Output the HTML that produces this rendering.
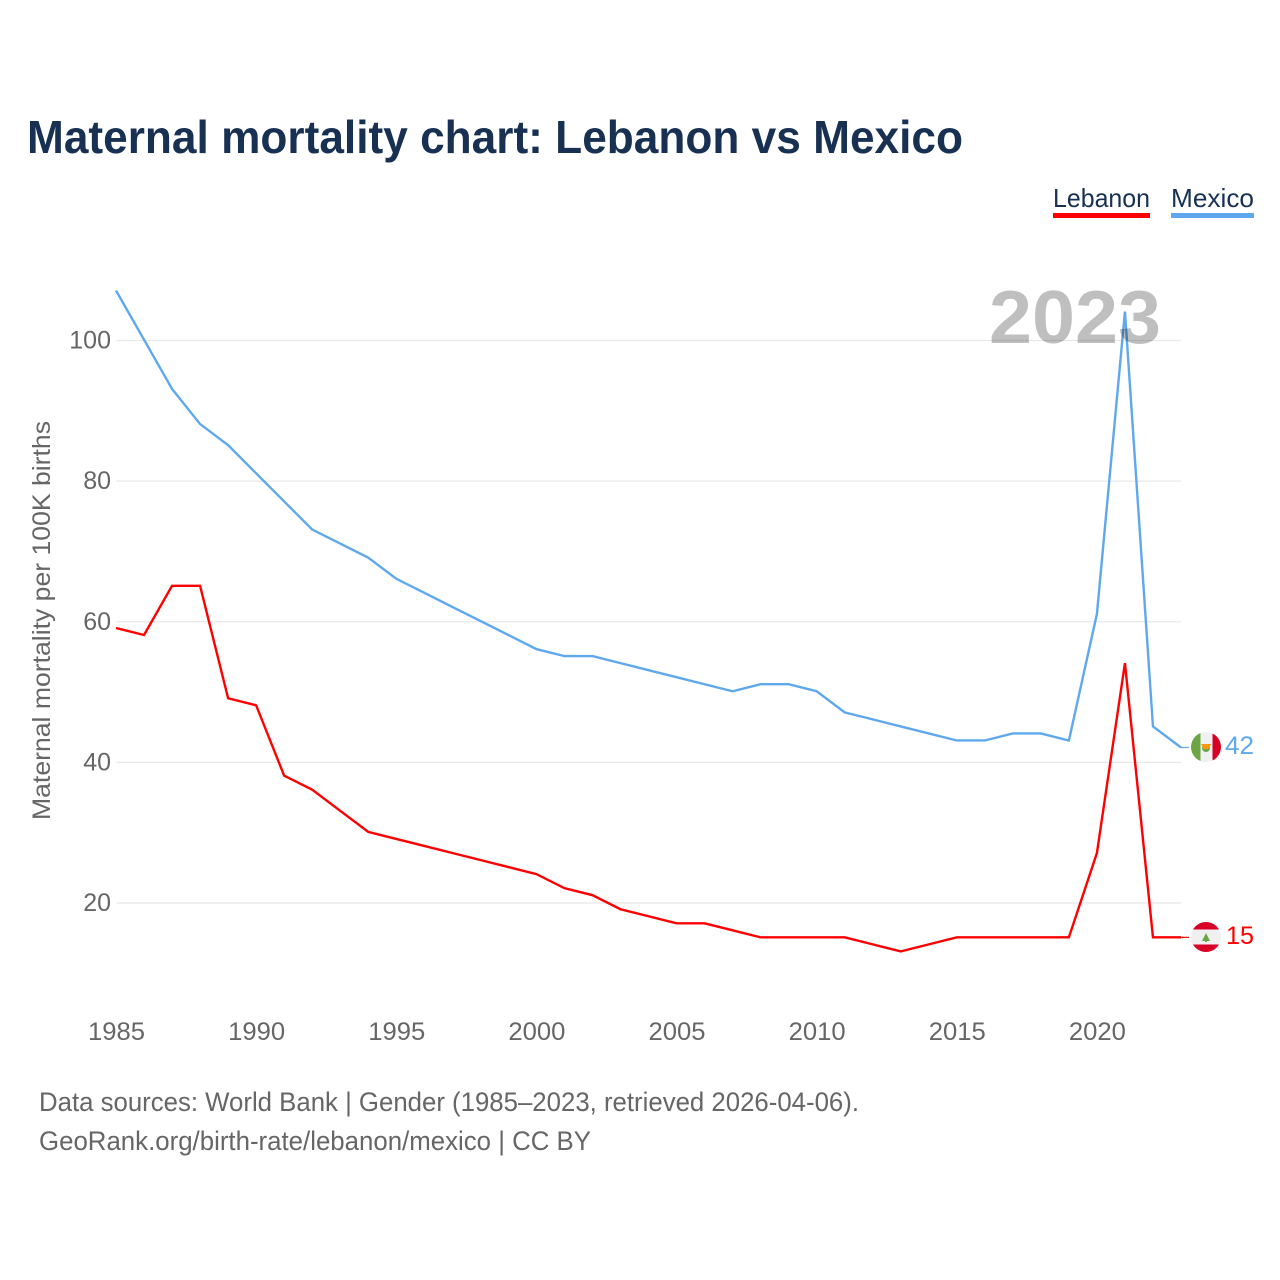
<!DOCTYPE html>
<html lang="en">
<head>
<meta charset="utf-8">
<title>Maternal mortality chart: Lebanon vs Mexico</title>
<style>
html,body{margin:0;padding:0;background:#fff;width:1280px;height:1280px;overflow:hidden}
svg{display:block}
text{font-family:"Liberation Sans",sans-serif}
</style>
</head>
<body>
<svg id="chart" xmlns="http://www.w3.org/2000/svg" width="1280" height="1280" viewBox="0 0 1280 1280">
  <defs>
    <clipPath id="flag-clip-mx"><circle cx="1206" cy="747" r="15"/></clipPath>
    <clipPath id="flag-clip-lb"><circle cx="1206" cy="937" r="15"/></clipPath>
  </defs>
  <text x="27" y="153" font-size="46" font-weight="700" fill="#183153" textLength="936" lengthAdjust="spacingAndGlyphs">Maternal mortality chart: Lebanon vs Mexico</text>

  <g>
    <g>
      <text x="1053" y="207" font-size="26" fill="#183153" textLength="97" lengthAdjust="spacingAndGlyphs">Lebanon</text>
      <rect x="1053" y="213" width="97" height="5" fill="#ff0000"/>
    </g>
    <g>
      <text x="1171" y="207" font-size="26" fill="#183153" textLength="83" lengthAdjust="spacingAndGlyphs">Mexico</text>
      <rect x="1171" y="213" width="83" height="5" fill="#5fa8ee"/>
    </g>
  </g>

  <g id="grid"></g>
  <g id="y-ticks"></g>
  <g id="x-ticks"></g>
  <g id="series"></g>

  <text x="989" y="343" font-size="75" font-weight="700" fill="#000" fill-opacity="0.25" textLength="172" lengthAdjust="spacingAndGlyphs">2023</text>

  <text transform="translate(50 820) rotate(-90)" x="0" y="0" font-size="25" fill="#666666" textLength="399" lengthAdjust="spacingAndGlyphs">Maternal mortality per 100K births</text>

  <g clip-path="url(#flag-clip-mx)">
    <rect x="1191" y="732" width="30" height="30" fill="#f0f0f0"/>
    <rect x="1191" y="732" width="9.5" height="30" fill="#6da544"/>
    <rect x="1212.5" y="732" width="9" height="30" fill="#d80027"/>
    <circle cx="1206" cy="748" r="4" fill="#6da544"/>
    <path d="M1201 744 L1211 744 L1208.5 749 L1203.5 749 Z" fill="#ff9811"/>
  </g>
  <g clip-path="url(#flag-clip-lb)">
    <rect x="1191" y="922" width="30" height="30" fill="#f0f0f0"/>
    <rect x="1191" y="922" width="30" height="7.5" fill="#d80027"/>
    <rect x="1191" y="944.5" width="30" height="7.5" fill="#d80027"/>
    <path d="M1206 933 L1210 941 L1207 941 L1207 942 L1205 942 L1205 941 L1202 941 Z" fill="#6da544"/>
  </g>
  <text id="end-label-mexico" x="1225" y="754" font-size="25" fill="#5fa8ee" textLength="29" lengthAdjust="spacingAndGlyphs"></text>
  <text id="end-label-lebanon" x="1226" y="944" font-size="25" fill="#ff0000" textLength="28" lengthAdjust="spacingAndGlyphs"></text>

  <text x="39" y="1111" font-size="27" fill="#666666" textLength="820" lengthAdjust="spacingAndGlyphs">Data sources: World Bank | Gender (1985–2023, retrieved 2026-04-06).</text>
  <text x="39" y="1150" font-size="27" fill="#666666" textLength="552" lengthAdjust="spacingAndGlyphs">GeoRank.org/birth-rate/lebanon/mexico | CC BY</text>
</svg>
<script>
const years = [1985,1986,1987,1988,1989,1990,1991,1992,1993,1994,1995,1996,1997,1998,1999,2000,2001,2002,2003,2004,2005,2006,2007,2008,2009,2010,2011,2012,2013,2014,2015,2016,2017,2018,2019,2020,2021,2022,2023];
const mexicoValues = [107,100,93,88,85,81,77,73,71,69,66,64,62,60,58,56,55,55,54,53,52,51,50,51,51,50,47,46,45,44,43,43,44,44,43,61,104,45,42];
const lebanonValues = [59,58,65,65,49,48,38,36,33,30,29,28,27,26,25,24,22,21,19,18,17,17,16,15,15,15,15,14,13,14,15,15,15,15,15,27,54,15,15];
const yTickValues = [20,40,60,80,100];
const xTickValues = [1985,1990,1995,2000,2005,2010,2015,2020];

const NS = 'http://www.w3.org/2000/svg';
function xScale(year){ return 116 + (year - 1985) * (1181 - 116) / 38; }
function yScale(value){ return 903 - (value - 20) * (903 - 340.5) / 80; }
function make(tag, parent, attrs){
  const el = document.createElementNS(NS, tag);
  for (const k in attrs) el.setAttribute(k, attrs[k]);
  parent.appendChild(el);
  return el;
}

const grid = document.getElementById('grid');
const yTicks = document.getElementById('y-ticks');
yTickValues.forEach(function(v){
  const line = make('line', grid, {x1:116.5, x2:1181, y1:yScale(v), y2:yScale(v), stroke:'#e8e8e8', 'stroke-width':1.2});
  
  
  const t = make('text', yTicks, {x:111, y:yScale(v) + 8, 'text-anchor':'end', 'font-size':25, fill:'#666666'});
  
  
  t.textContent = String(v);
});

const xTicks = document.getElementById('x-ticks');
xTickValues.forEach(function(y){
  const t = make('text', xTicks, {x:xScale(y) + 0.5, y:1040, 'text-anchor':'middle', 'font-size':25, fill:'#666666', textLength:57, lengthAdjust:'spacingAndGlyphs'});
  
  
  t.textContent = String(y);
});

const seriesGroup = document.getElementById('series');
function drawSeries(values, color, name){
  const pts = values.map(function(v, i){ return xScale(years[i]).toFixed(2) + ',' + (yScale(v) - 0.8).toFixed(2); }).join(' ');
  const line = make('polyline', seriesGroup, {points:pts, fill:'none', stroke:color, 'stroke-width':2.4, 'stroke-linejoin':'miter'});
  
  
  const lastY = yScale(values[values.length - 1]) - 0.8;
  const lead = make('line', seriesGroup, {x1:1181, x2:1189, y1:lastY, y2:lastY, stroke:color, 'stroke-width':1.2});
  
  
}
drawSeries(mexicoValues, '#5fa8ee', 'mexico');
drawSeries(lebanonValues, '#ff0000', 'lebanon');

document.getElementById('end-label-mexico').textContent = String(mexicoValues[mexicoValues.length - 1]);
document.getElementById('end-label-lebanon').textContent = String(lebanonValues[lebanonValues.length - 1]);
</script>
</body>
</html>
